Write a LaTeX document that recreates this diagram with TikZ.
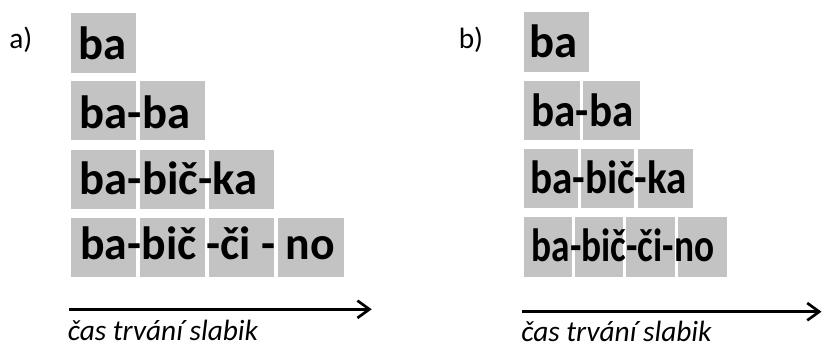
\documentclass[tikz,border=0pt]{standalone}
\usepackage{fontspec}
\setmainfont{Carlito}
\usetikzlibrary{arrows.meta}
\definecolor{boxgray}{RGB}{195,195,195}
\tikzset{
  gbox/.style={fill=boxgray, inner sep=0pt, outer sep=0pt, anchor=north west, draw=none},
  word/.style={anchor=base west, inner sep=0pt, outer sep=0pt, font=\fontsize{35}{42}\selectfont\bfseries},
  lbl/.style={anchor=base west, inner sep=0pt, font=\fontsize{22}{26}\selectfont},
  captext/.style={anchor=base west, inner sep=0pt, font=\fontsize{22}{26}\selectfont\itshape},
  axis/.style={line width=2pt, -{Straight Barb[length=9pt,width=13pt,line width=2pt]}}
}
\newcommand\gbox[5]{\node[gbox, minimum width=#4*0.75pt, minimum height=#5*0.75pt] (#1) at (#2,#3) {};}
\begin{document}
\begin{tikzpicture}[x=0.75pt,y=-0.75pt]
\useasboundingbox (0,0) rectangle (822,348);
% panel a boxes
\gbox{a11}{70.7}{13.3}{65.2}{59.3}
\gbox{a21}{70.7}{81}{65.2}{59.5}
\gbox{a22}{139.9}{81}{65.2}{59.5}
\gbox{a31}{70.7}{150}{65.2}{59.3}
\gbox{a32}{139.9}{150}{65.2}{59.3}
\gbox{a33}{209.1}{150}{65.2}{59.3}
\gbox{a41}{70.7}{218.3}{65.2}{59}
\gbox{a42}{139.9}{218.3}{65.2}{59}
\gbox{a43}{209.1}{218.3}{65.2}{59}
\gbox{a44}{278.3}{218.3}{65.2}{59}
% panel b boxes
\gbox{b11}{523.7}{12.3}{65}{59.4}
\gbox{b21}{523.7}{80.7}{56.3}{59.3}
\gbox{b22}{583.3}{80.7}{56.7}{59.3}
\gbox{b31}{523.7}{149}{54.6}{59.3}
\gbox{b32}{581.3}{149}{53}{59.3}
\gbox{b33}{638}{149}{55}{59.3}
\gbox{b41}{523.7}{217.3}{48.3}{59.4}
\gbox{b42}{575}{217.3}{48}{59.4}
\gbox{b43}{626}{217.3}{49}{59.4}
\gbox{b44}{678}{217.3}{49}{59.4}
% labels
\node[lbl] (la) at (9,48.5) {a)};
\node[lbl] (lb) at (458.5,48.3) {b)};
% panel a words
\node[word] (wa1) at (78.7,59.3) {ba};
\node[word] (wa2) at (79.7,128.3) {ba-ba};
\node[word] (wa3) at (79.7,195) {ba-bič-ka};
\node[word] (wa4) at (80.3,260) {\scalebox{0.98}[1]{ba-bič -či - no}};
% panel b words
\node[word] (wb1) at (529.7,57.3) {ba};
\node[word] (wb2) at (531.5,126.7) {\scalebox{0.924}[1]{ba-ba}};
\node[word] (wb3) at (530,193.3) {\scalebox{0.883}[1]{ba-bič-ka}};
\node[word] (wb4) at (531.7,261.7) {\scalebox{0.80}[1]{ba-bič-či-no}};
% axes
\coordinate (as) at (69.3,309.3);
\coordinate (ae) at (371.7,309.3);
\draw[axis] (as) -- (ae);
\coordinate (bs) at (522,311.7);
\coordinate (be) at (821.5,311.7);
\draw[axis] (bs) -- (be);
% captions
\node[captext] (ca) at (67.5,340.5) {čas trvání slabik};
\node[captext] (cb) at (521,341.5) {čas trvání slabik};
\end{tikzpicture}
\end{document}
